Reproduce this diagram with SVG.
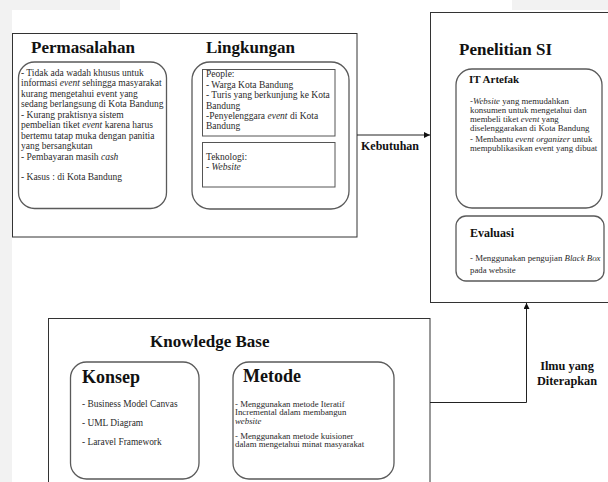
<svg xmlns="http://www.w3.org/2000/svg" width="608" height="482" viewBox="0 0 608 482">
<defs>
<style>
text{font-family:"Liberation Serif","Times New Roman",serif;fill:#2a2a2a}
.h{font-weight:bold;fill:#111}
.t{font-size:9.5px}
.s{font-size:9.4px}
.c{font-size:8.8px}
.box{fill:#fff;stroke:#333;stroke-width:1}
.rr{fill:#fff;stroke:#5a5a5a;stroke-width:1.3}
.sq{fill:#fff;stroke:#555;stroke-width:1}
.con{fill:none;stroke:#222;stroke-width:1}
</style>
<marker id="ah" viewBox="0 0 10 10" refX="10" refY="5" markerWidth="6" markerHeight="6" orient="auto" markerUnits="userSpaceOnUse">
<path d="M0,0 L10,5 L0,10 z" fill="#111"/>
</marker>
</defs>
<rect x="0" y="0" width="608" height="482" fill="#fff"/>
<rect x="0" y="0" width="12" height="482" fill="#f2f2f2"/>
<rect x="0" y="0" width="120" height="10" fill="#f2f2f2"/>
<rect x="512" y="0" width="96" height="10" fill="#f2f2f2"/>

<g id="masalah-lingkungan">
<rect class="box" x="12.5" y="33.5" width="344.5" height="203.5"/>
<text class="h" x="31" y="53" font-size="17">Permasalahan</text>
<text class="h" x="206" y="53" font-size="17">Lingkungan</text>
</g>

<g id="permasalahan">
<rect class="rr" x="18.5" y="62" width="148" height="146.5" rx="16"/>
<text class="t" x="21" y="75.7">- Tidak ada wadah khusus untuk</text>
<text class="t" x="21" y="86.2">informasi <tspan font-style="italic">event</tspan> sehingga masyarakat</text>
<text class="t" x="21" y="96.7">kurang mengetahui event yang</text>
<text class="t" x="21" y="107.2">sedang berlangsung di Kota Bandung</text>
<text class="t" x="21" y="117.7">- Kurang praktisnya sistem</text>
<text class="t" x="21" y="128.2">pembelian tiket <tspan font-style="italic">event</tspan> karena harus</text>
<text class="t" x="21" y="138.7">bertemu tatap muka dengan panitia</text>
<text class="t" x="21" y="149.2">yang bersangkutan</text>
<text class="t" x="21" y="159.7">- Pembayaran masih <tspan font-style="italic">cash</tspan></text>
<text class="t" x="21" y="180.2">- Kasus : di Kota Bandung</text>
</g>

<g id="lingkungan">
<rect class="rr" x="192" y="62" width="157" height="147" rx="18"/>
<rect class="sq" x="202.5" y="69.5" width="132.5" height="66.5"/>
<text class="t" x="206" y="77.3">People:</text>
<text class="t" x="206" y="87.7">- Warga Kota Bandung</text>
<text class="t" x="206" y="98.1">- Turis yang berkunjung ke Kota</text>
<text class="t" x="206" y="108.5">Bandung</text>
<text class="t" x="206" y="118.9">-Penyelenggara <tspan font-style="italic">event</tspan> di Kota</text>
<text class="t" x="206" y="129.3">Bandung</text>
<rect class="sq" x="202.5" y="142.5" width="132.5" height="44.5"/>
<text class="t" x="206" y="159.7">Teknologi:</text>
<text class="t" x="206" y="169.7">- <tspan font-style="italic">Website</tspan></text>
</g>

<g id="penelitian">
<rect class="box" x="430.5" y="12.5" width="200" height="290"/>
<text class="h" x="459" y="55" font-size="17">Penelitian SI</text>
</g>

<g id="it-artefak">
<rect class="rr" x="456" y="69" width="146" height="139" rx="16"/>
<text class="h" x="469" y="83" font-size="11">IT Artefak</text>
<text class="c" x="470" y="104.3">-<tspan font-style="italic">Website</tspan> yang memudahkan</text>
<text class="c" x="470" y="113.1">konsumen untuk mengetahui dan</text>
<text class="c" x="470" y="121.9">membeli tiket <tspan font-style="italic">event</tspan> yang</text>
<text class="c" x="470" y="130.7">diselenggarakan di Kota Bandung</text>
<text class="c" x="470" y="141.8">- Membantu <tspan font-style="italic">event organizer</tspan> untuk</text>
<text class="c" x="470" y="150.6">mempublikasikan event yang dibuat</text>
</g>

<g id="evaluasi">
<rect class="rr" x="456" y="216" width="148" height="65" rx="10"/>
<text class="h" x="470" y="237" font-size="12">Evaluasi</text>
<text class="c" x="470" y="261">- Menggunakan pengujian <tspan font-style="italic">Black Box</tspan></text>
<text class="c" x="470" y="272.5">pada website</text>
</g>

<g id="knowledge-base">
<rect class="box" x="48.5" y="318.5" width="381.5" height="200"/>
<text class="h" x="150" y="346.5" font-size="17">Knowledge Base</text>
</g>

<g id="konsep">
<rect class="rr" x="70.5" y="362" width="128.5" height="117" rx="16"/>
<text class="h" x="82" y="382.5" font-size="18">Konsep</text>
<text class="s" x="82" y="407">- Business Model Canvas</text>
<text class="s" x="82" y="425.7">- UML Diagram</text>
<text class="s" x="82" y="444.7">- Laravel Framework</text>
</g>

<g id="metode">
<rect class="rr" x="233" y="362" width="161" height="117" rx="16"/>
<text class="h" x="243" y="382" font-size="18">Metode</text>
<text class="c" x="235" y="406.5">- Menggunakan metode Iteratif</text>
<text class="c" x="235" y="415.3">Incremental dalam membangun</text>
<text class="c" x="235" y="424.1" font-style="italic">website</text>
<text class="c" x="235" y="438.5">- Menggunakan metode kuisioner</text>
<text class="c" x="235" y="447.3">dalam mengetahui minat masyarakat</text>
</g>

<g id="connectors">
<line class="con" x1="357" y1="135" x2="430" y2="135" marker-end="url(#ah)"/>
<text class="h" x="361" y="150" font-size="12">Kebutuhan</text>
<polyline class="con" points="430,402.5 526.5,402.5 526.5,303" marker-end="url(#ah)"/>
<text class="h" x="567" y="370" font-size="12.3" text-anchor="middle">Ilmu yang</text>
<text class="h" x="567" y="385" font-size="12.3" text-anchor="middle">Diterapkan</text>
</g>
</svg>
